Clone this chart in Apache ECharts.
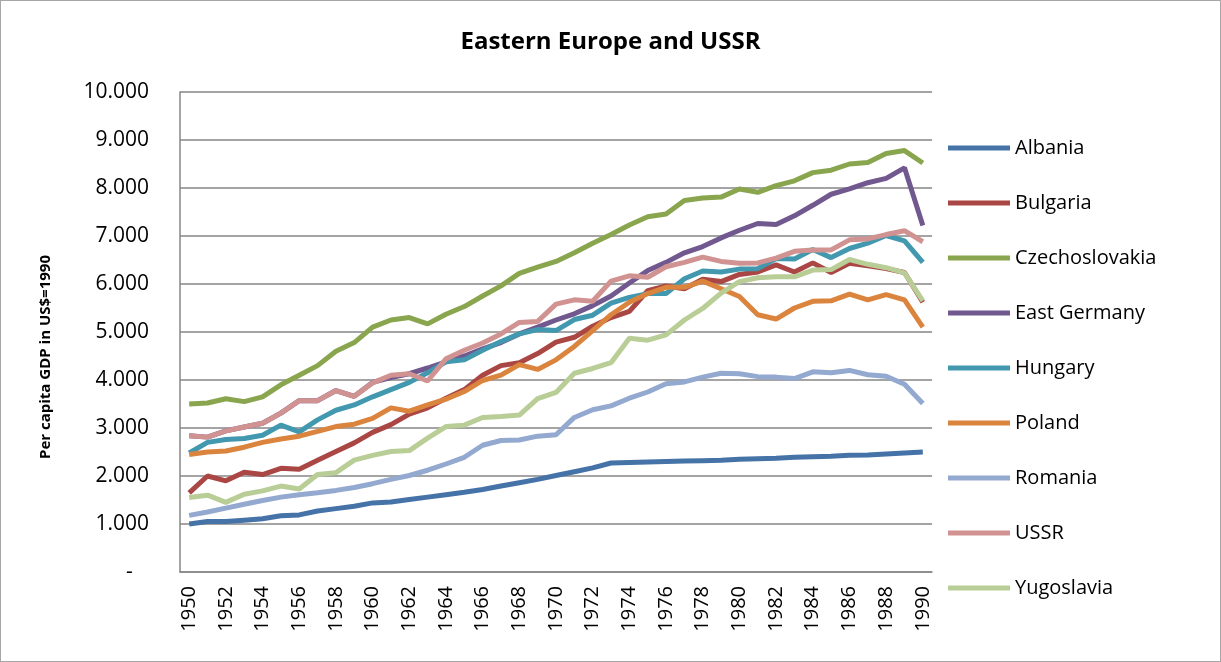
<!DOCTYPE html>
<html lang="en">
<head>
    <meta charset="UTF-8">
    <title>Eastern Europe and USSR</title>
    <script type="text/javascript" src="https://cdn.jsdelivr.net/npm/echarts@6/dist/echarts.min.js"></script>
    <style>
        html, body { margin: 0; padding: 0; background: #fff; }
        #frame { position: absolute; left: 0; top: 0; width: 1219px; height: 660px; border: 1px solid #a6a6a6; }
        #chart { width: 1221px; height: 662px; }
    </style>
</head>
<body>
<div id="chart"></div>
<div id="frame"></div>

<script type="text/javascript">
    var years = [];
    for (var y = 1950; y <= 1990; y++) years.push(String(y));

    var albania = [1000, 1050, 1050, 1080, 1110, 1170, 1190, 1270, 1320, 1370,
        1440, 1460, 1510, 1560, 1610, 1660, 1720, 1790, 1860, 1930,
        2010, 2090, 2170, 2270, 2280, 2290, 2300, 2310, 2320, 2330,
        2350, 2360, 2370, 2390, 2400, 2410, 2430, 2440, 2460, 2480, 2500];
    var bulgaria = [1650, 2000, 1900, 2080, 2030, 2160, 2140, 2330, 2510, 2690,
        2910, 3070, 3290, 3420, 3620, 3800, 4100, 4300, 4360, 4550,
        4790, 4890, 5120, 5300, 5430, 5860, 5960, 5900, 6100, 6050,
        6200, 6250, 6400, 6250, 6440, 6240, 6430, 6380, 6320, 6240, 5620];
    var czechoslovakia = [3500, 3520, 3610, 3550, 3650, 3900, 4100, 4300, 4600, 4780,
        5100, 5250, 5300, 5170, 5370, 5530, 5750, 5960, 6220, 6350,
        6470, 6650, 6850, 7030, 7230, 7400, 7460, 7740, 7790, 7810,
        7980, 7910, 8050, 8150, 8320, 8370, 8500, 8530, 8720, 8780, 8520];
    var eastGermany = [2840, 2810, 2940, 3020, 3100, 3310, 3570, 3570, 3780, 3660,
        3950, 4050, 4130, 4250, 4380, 4500, 4650, 4780, 4960, 5100,
        5250, 5380, 5550, 5750, 6020, 6280, 6450, 6650, 6780, 6960,
        7120, 7260, 7240, 7420, 7640, 7870, 7980, 8110, 8200, 8420, 7220];
    var hungary = [2480, 2700, 2760, 2780, 2850, 3060, 2920, 3170, 3370, 3480,
        3650, 3800, 3950, 4150, 4380, 4420, 4620, 4800, 4960, 5050,
        5030, 5260, 5350, 5600, 5720, 5800, 5800, 6110, 6270, 6250,
        6310, 6320, 6530, 6520, 6720, 6550, 6740, 6850, 7010, 6900, 6450];
    var poland = [2450, 2500, 2520, 2600, 2700, 2770, 2830, 2930, 3030, 3080,
        3200, 3420, 3350, 3480, 3600, 3760, 3990, 4100, 4320, 4220,
        4420, 4700, 5030, 5360, 5620, 5800, 5930, 5930, 6060, 5900,
        5740, 5360, 5270, 5500, 5640, 5650, 5790, 5670, 5780, 5670, 5100];
    var romania = [1180, 1250, 1330, 1410, 1490, 1560, 1610, 1650, 1700, 1760,
        1840, 1930, 2010, 2120, 2250, 2390, 2640, 2740, 2750, 2830,
        2860, 3220, 3380, 3460, 3620, 3750, 3920, 3960, 4060, 4140,
        4130, 4070, 4060, 4030, 4170, 4150, 4200, 4110, 4080, 3910, 3510];
    var ussr = [2840, 2810, 2940, 3020, 3100, 3310, 3570, 3570, 3780, 3660,
        3940, 4100, 4130, 3980, 4440, 4620, 4770, 4960, 5200, 5220,
        5580, 5670, 5640, 6060, 6170, 6140, 6360, 6450, 6560, 6470,
        6430, 6440, 6540, 6680, 6710, 6710, 6920, 6940, 7030, 7110, 6880];
    var yugoslavia = [1550, 1600, 1450, 1620, 1690, 1790, 1730, 2030, 2070, 2330,
        2430, 2510, 2530, 2790, 3030, 3060, 3220, 3240, 3270, 3610,
        3740, 4140, 4240, 4360, 4870, 4830, 4940, 5250, 5490, 5810,
        6050, 6130, 6150, 6150, 6290, 6300, 6510, 6410, 6340, 6230, 5650];

    var names = ['Albania', 'Bulgaria', 'Czechoslovakia', 'East Germany', 'Hungary',
        'Poland', 'Romania', 'USSR', 'Yugoslavia'];
    var datas = [albania, bulgaria, czechoslovakia, eastGermany, hungary,
        poland, romania, ussr, yugoslavia];
    var colors = ['#4572A7', '#AA4643', '#89A54E', '#71588F', '#4198AF',
        '#DB843D', '#93A9CF', '#D19392', '#B9CD96'];

    var font = '"Open Sans", Lato, sans-serif';

    var series = names.map(function (n, i) {
        return {
            name: n,
            type: 'line',
            data: datas[i],
            symbol: 'none',
            lineStyle: { width: 5, color: colors[i] },
            itemStyle: { color: colors[i] }
        };
    });

    var myChart = echarts.init(document.getElementById('chart'));
    myChart.setOption({
        animation: false,
        color: colors,
        textStyle: { fontFamily: font },
        title: {
            text: 'Eastern Europe and USSR',
            left: 'center',
            top: 25,
            textStyle: { fontSize: 24, fontWeight: 'bold', color: '#000', fontFamily: font }
        },
        // y axis title sits a bit lower than the plot centre, as in the original
        graphic: [{
            type: 'text',
            x: 46,
            y: 357,
            rotation: Math.PI / 2,
            style: {
                text: 'Per capita GDP in US$=1990',
                font: 'bold 15px ' + font,
                fill: '#000',
                textAlign: 'center',
                textVerticalAlign: 'middle'
            }
        }],
        legend: {
            orient: 'vertical',
            left: 943,
            top: 131,
            icon: 'rect',
            itemWidth: 62,
            itemHeight: 5,
            itemGap: 31,
            data: names,
            textStyle: { fontSize: 20, color: '#000', lineHeight: 24, fontFamily: font }
        },
        grid: {
            left: 180,
            right: 289,
            top: 92,
            bottom: 90
        },
        xAxis: {
            type: 'category',
            data: years,
            boundaryGap: true,
            axisLine: { lineStyle: { color: '#868686', width: 1.5 } },
            axisTick: { show: false },
            axisLabel: {
                interval: 1,
                rotate: 90,
                margin: 14,
                fontSize: 20,
                color: '#000'
            }
        },
        yAxis: {
            type: 'value',
            min: 0,
            max: 10000,
            interval: 1000,
            axisLine: { show: true, lineStyle: { color: '#868686', width: 1.5 } },
            splitLine: { lineStyle: { color: '#868686', width: 1.5 } },
            axisLabel: {
                margin: 31,
                fontSize: 21,
                color: '#000',
                formatter: function (v) {
                    if (v === 0) return '-   ';
                    return String(v).replace(/\B(?=(\d{3})+(?!\d))/g, '.');
                }
            }
        },
        series: series
    });
</script>

</body>
</html>
